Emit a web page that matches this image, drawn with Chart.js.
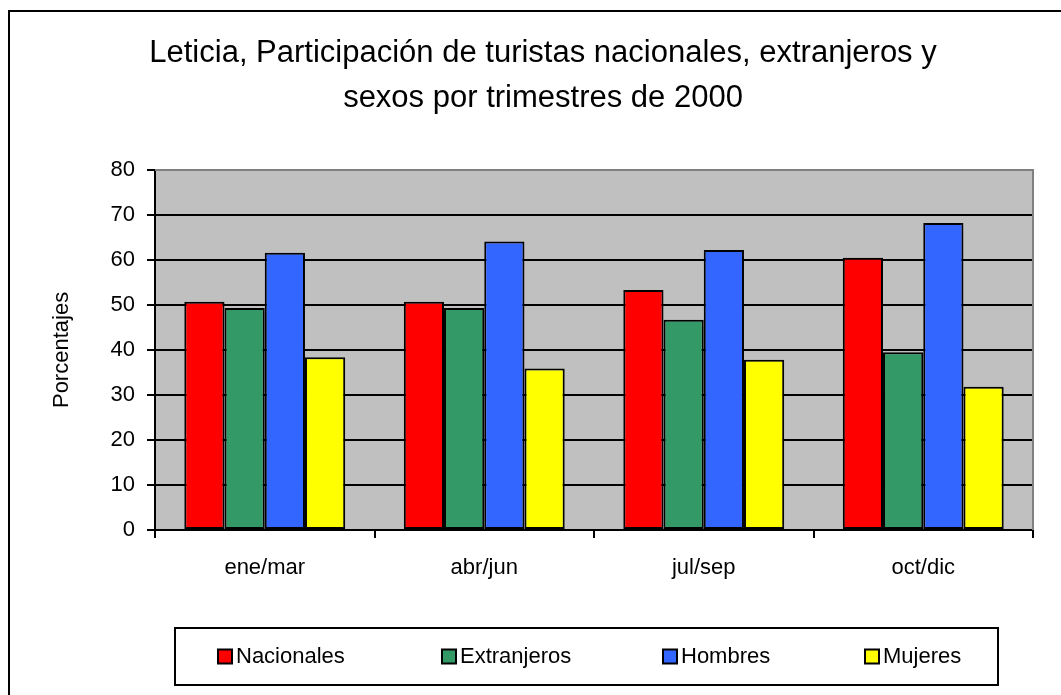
<!DOCTYPE html>
<html>
<head>
<meta charset="utf-8">
<script src="https://cdn.jsdelivr.net/npm/chart.js@4"></script>
<style>
    html, body { margin: 0; padding: 0; background: #fff; overflow: hidden; }
    #wrap { position: relative; width: 1061px; height: 695px; }
</style>
</head>
<body>
<div id="wrap"><canvas id="chart" width="1061" height="695"></canvas></div>
<script>
(() => {
    'use strict';

    // Data
    const categories = ['ene/mar', 'abr/jun', 'jul/sep', 'oct/dic'];
    const nacionales = [50.7, 50.7, 53.3, 60.5];
    const extranjeros = [49.3, 49.3, 46.7, 39.5];
    const hombres = [61.6, 64.1, 62.2, 68.2];
    const mujeres = [38.4, 35.9, 37.8, 31.8];
    const yTicks = [0, 10, 20, 30, 40, 50, 60, 70, 80];

    const titleLines = ['Leticia, Participación de turistas nacionales, extranjeros y', 'sexos por trimestres de 2000'];
    const FONT = "'Liberation Sans', Arial, sans-serif";

    // Chart background, frame and plot area
    const framePlugin = {
        id: 'frame',
        beforeDraw(chart) {
            const { ctx, chartArea: a } = chart;
            ctx.save();
            ctx.fillStyle = '#fff';
            ctx.fillRect(0, 0, chart.width, chart.height);
            ctx.strokeStyle = '#000';
            ctx.lineWidth = 2;
            ctx.strokeRect(9, 11, 1100, 800);
            ctx.fillStyle = '#c0c0c0';
            ctx.fillRect(a.left, a.top, a.right - a.left, a.bottom - a.top);
            ctx.restore();
        },
        afterDatasetsDraw(chart) {
            const { ctx, chartArea: a } = chart;
            ctx.save();
            ctx.strokeStyle = '#808080';
            ctx.lineWidth = 2;
            ctx.beginPath();
            ctx.moveTo(a.left, a.top);
            ctx.lineTo(a.right, a.top);
            ctx.lineTo(a.right, a.bottom);
            ctx.stroke();
            ctx.restore();
        }
    };

    // Boxed legend below the axis
    const boxLegend = {
        id: 'boxLegend',
        afterDraw(chart) {
            const { ctx } = chart;
            const box = { x: 175, y: 628, w: 823, h: 57 };
            const itemX = [217, 441, 662, 864];
            ctx.save();
            ctx.fillStyle = '#fff';
            ctx.fillRect(box.x, box.y, box.w, box.h);
            ctx.strokeStyle = '#000';
            ctx.lineWidth = 2;
            ctx.strokeRect(box.x, box.y, box.w, box.h);
            ctx.font = '22px ' + FONT;
            ctx.textBaseline = 'middle';
            chart.data.datasets.forEach((ds, i) => {
                const x = itemX[i];
                const cy = box.y + box.h / 2;
                ctx.fillStyle = ds.backgroundColor;
                ctx.fillRect(x + 1, cy - 7, 14, 14);
                ctx.strokeStyle = '#000';
                ctx.lineWidth = 2;
                ctx.strokeRect(x + 1, cy - 7, 14, 14);
                ctx.fillStyle = '#000';
                ctx.fillText(ds.label, x + 19, cy);
            });
            ctx.restore();
        }
    };

    const makeSet = (label, data, color) => ({
        label,
        data,
        backgroundColor: color,
        borderColor: '#000',
        borderWidth: 2,
        borderSkipped: false,
        categoryPercentage: 0.733,
        barPercentage: 1.0
    });

    new Chart(document.getElementById('chart'), {
        type: 'bar',
        data: {
            labels: categories,
            datasets: [
                makeSet('Nacionales', nacionales, '#ff0000'),
                makeSet('Extranjeros', extranjeros, '#339966'),
                makeSet('Hombres', hombres, '#3366ff'),
                makeSet('Mujeres', mujeres, '#ffff00')
            ]
        },
        options: {
            responsive: false,
            animation: false,
            // left padding keeps the title centred like the original
            layout: { padding: { left: 53, right: 28, top: 0, bottom: 105 } },
            plugins: {
                legend: { display: false },
                tooltip: { enabled: false },
                title: {
                    display: true,
                    text: titleLines,
                    color: '#000',
                    font: { family: FONT, size: 31, weight: 'normal', lineHeight: 1.45 },
                    padding: { top: 31, bottom: 49 }
                }
            },
            scales: {
                x: {
                    afterFit: (s) => { s.height = 60; },
                    grid: {
                        offset: true,
                        drawOnChartArea: false,
                        drawTicks: true,
                        tickLength: 8,
                        color: '#000',
                        lineWidth: 2
                    },
                    border: { color: '#000', width: 2 },
                    ticks: {
                        color: '#000',
                        padding: 17,
                        font: { family: FONT, size: 22 }
                    }
                },
                y: {
                    min: 0,
                    max: 80,
                    afterFit: (s) => { s.width = 102; },
                    afterBuildTicks: (s) => { s.ticks = yTicks.map(v => ({ value: v })); },
                    grid: {
                        color: (c) => c.tick && c.tick.value === 80 ? '#808080' : '#000',
                        tickColor: '#000',
                        lineWidth: 2,
                        tickLength: 8
                    },
                    border: { color: '#000', width: 2 },
                    ticks: {
                        color: '#000',
                        padding: 12,
                        font: { family: FONT, size: 22 }
                    },
                    title: {
                        display: true,
                        text: 'Porcentajes',
                        color: '#000',
                        font: { family: FONT, size: 22 },
                        padding: { top: -4, bottom: 0 }
                    }
                }
            }
        },
        plugins: [framePlugin, boxLegend]
    });
})();
</script>
</body>
</html>
